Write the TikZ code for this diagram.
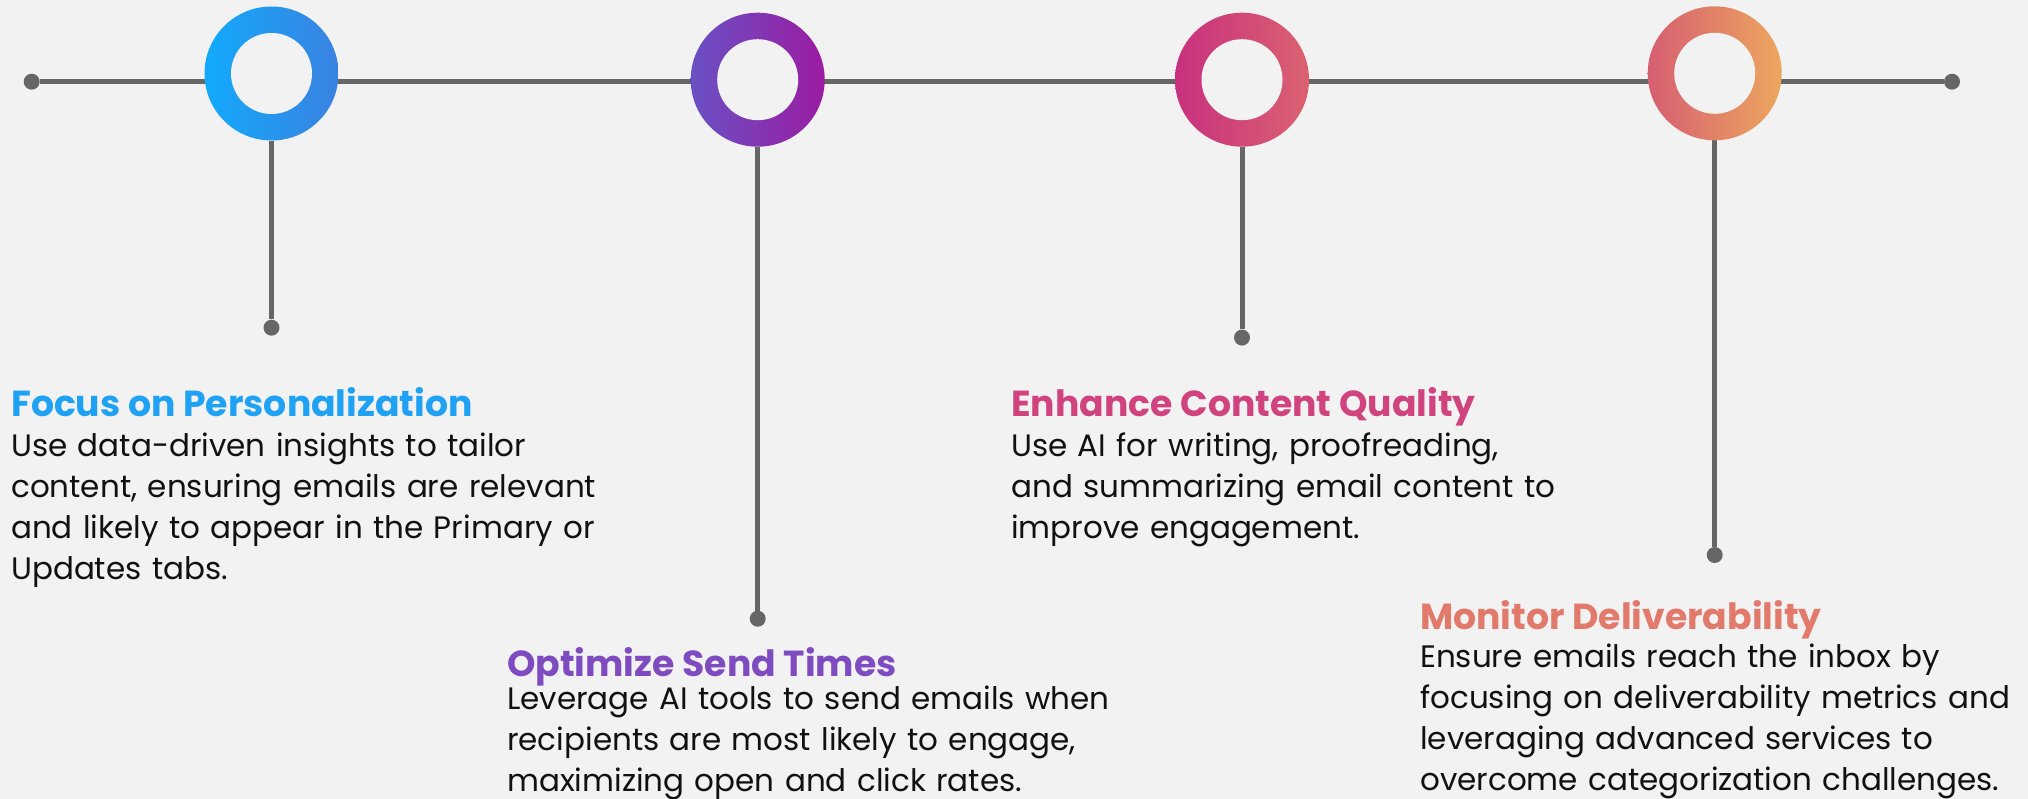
\documentclass[tikz,border=0pt]{standalone}
\usepackage{fontspec}
\setmainfont{Poppins}
\usetikzlibrary{backgrounds}
\definecolor{bg}{HTML}{F2F2F2}
\definecolor{linegray}{HTML}{666666}
\definecolor{ink}{HTML}{111111}
\definecolor{tA}{HTML}{1FA1F4}
\definecolor{tB}{HTML}{7E4CC0}
\definecolor{tC}{HTML}{D0437E}
\definecolor{tD}{HTML}{E27A6C}
\definecolor{gA1}{HTML}{12AAFC}
\definecolor{gA2}{HTML}{3A82E0}
\definecolor{gB1}{HTML}{6A50C4}
\definecolor{gB2}{HTML}{9B1CA2}
\definecolor{gC1}{HTML}{C8307E}
\definecolor{gC2}{HTML}{DA6270}
\definecolor{gD1}{HTML}{D65E72}
\definecolor{gD2}{HTML}{EDA75E}
\tikzset{
  conn/.style={draw=linegray, line width=5pt},
  dotnode/.style={circle, fill=linegray, inner sep=0pt, minimum size=16pt},
  ringnode/.style={circle, inner sep=0pt, minimum size=134pt},
  hole/.style={circle, fill=bg, inner sep=0pt, minimum size=81pt},
  titletext/.style={anchor=base west, inner sep=0pt, font=\fontsize{36.2}{42}\selectfont\bfseries},
  bodytext/.style={anchor=base west, inner sep=0pt, text width=680pt, align=left, text=ink, font=\fontsize{31}{41}\selectfont}
}
\begin{document}
\begin{tikzpicture}[x=1pt,y=-1pt]
\useasboundingbox (0,0) rectangle (2028,799);
\begin{scope}[on background layer]
\fill[bg] (0,0) rectangle (2028,799);
\end{scope}
% end dots
\node[dotnode] (L) at (31.7,81.7) {};
\node[dotnode] (R) at (1952,81.7) {};
% rings
\node[ringnode, left color=gA1, right color=gA2] (c1) at (271.5,73.5) {};
\node[ringnode, left color=gB1, right color=gB2] (c2) at (757.7,79.7) {};
\node[ringnode, left color=gC1, right color=gC2] (c3) at (1242,79.7) {};
\node[ringnode, left color=gD1, right color=gD2] (c4) at (1714.7,73.3) {};
\node[hole] (h1) at (c1) {};
\node[hole] (h2) at (c2) {};
\node[hole] (h3) at (c3) {};
\node[hole] (h4) at (c4) {};
% stem dots
\node[dotnode] (s1) at (271.5,327.7) {};
\node[dotnode] (s2) at (757.7,618.7) {};
\node[dotnode] (s3) at (1242,337.6) {};
\node[dotnode] (s4) at (1714.7,555) {};
\begin{scope}[on background layer]
\draw[conn] (L) -- (R);
\draw[conn] (c1) -- (s1);
\draw[conn] (c2) -- (s2);
\draw[conn] (c3) -- (s3);
\draw[conn] (c4) -- (s4);
\end{scope}
% texts
\node[titletext, text=tA] (t1) at (11,416) {Focus on Personalization};
\node[bodytext] (b1) at (11,456) {Use data-driven insights to tailor\\content, ensuring emails are relevant\\and likely to appear in the Primary or\\Updates tabs.};
\node[titletext, text=tB] (t2) at (507,676) {Optimize Send Times};
\node[bodytext] (b2) at (507,709) {Leverage AI tools to send emails when\\recipients are most likely to engage,\\maximizing open and click rates.};
\node[titletext, text=tC] (t3) at (1011,416) {Enhance Content Quality};
\node[bodytext] (b3) at (1011,456) {Use AI for writing, proofreading,\\and summarizing email content to\\improve engagement.};
\node[titletext, text=tD] (t4) at (1420,629) {Monitor Deliverability};
\node[bodytext] (b4) at (1420,667) {Ensure emails reach the inbox by\\focusing on deliverability metrics and\\leveraging advanced services to\\overcome categorization challenges.};
\end{tikzpicture}
\end{document}
